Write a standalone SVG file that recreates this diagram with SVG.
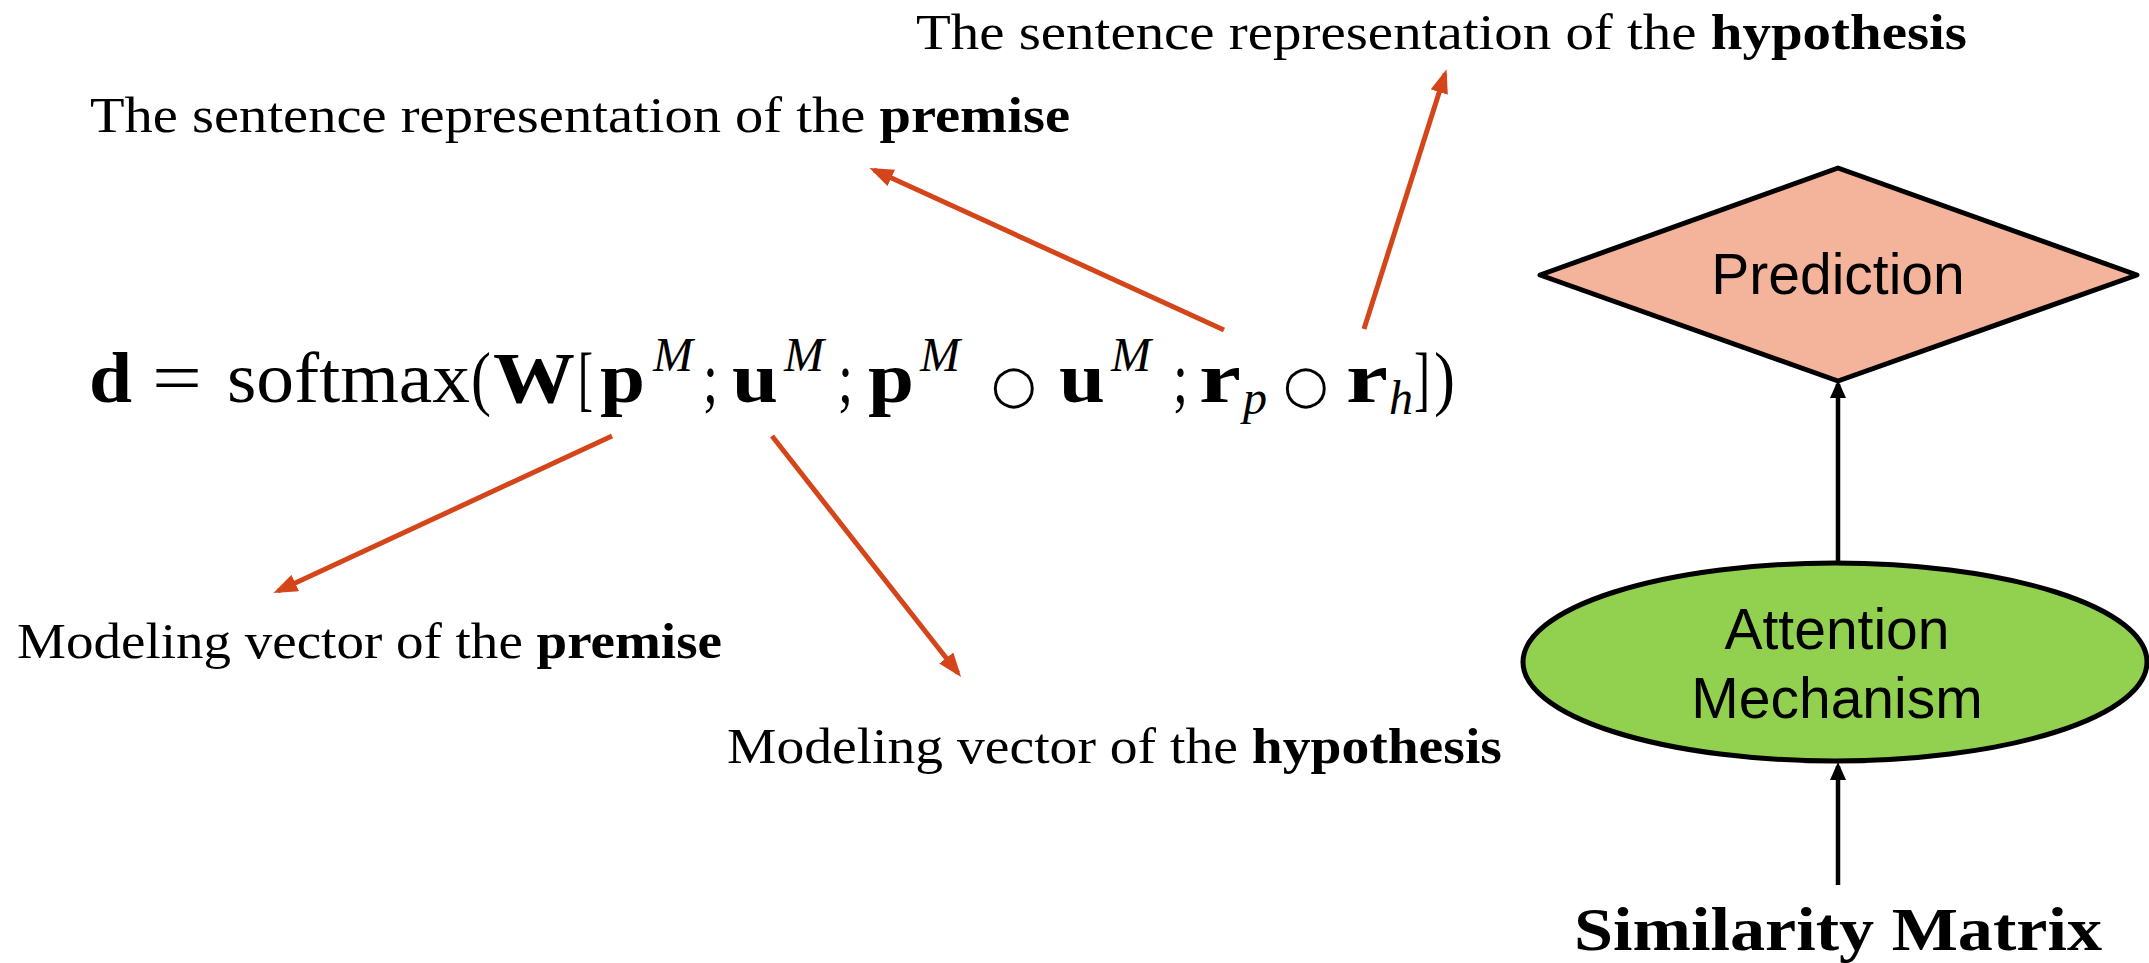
<svg xmlns="http://www.w3.org/2000/svg" width="2149" height="963" viewBox="0 0 2149 963">
<style>
.lbl{font-family:"Liberation Serif","Times New Roman",serif;font-size:50px;fill:#000}
.b{font-weight:bold}
.m{font-family:"Liberation Serif","Times New Roman",serif;font-size:72px;fill:#000}
.sup{font-family:"Liberation Serif","Times New Roman",serif;font-size:48px;font-style:italic;fill:#000}
.op{font-family:"DejaVu Sans",sans-serif;font-size:52px;fill:#000}
.node{font-family:"Liberation Sans",Arial,sans-serif;font-size:57px;fill:#000;text-anchor:middle}
.oa{stroke:#D4461A;stroke-width:5;fill:none}
.ba{stroke:#000;stroke-width:4.5;fill:none}
</style>
<defs>
<marker id="ho" markerUnits="userSpaceOnUse" markerWidth="24" markerHeight="18" refX="19" refY="9" orient="auto">
<path d="M0,0 L24,9 L0,18 z" fill="#D4461A"/>
</marker>
<marker id="hb" markerUnits="userSpaceOnUse" markerWidth="18" markerHeight="16" refX="14" refY="8" orient="auto">
<path d="M0,0 L18,8 L0,16 z" fill="#000"/>
</marker>
</defs>
<rect width="2149" height="963" fill="#fff"/>

<g id="label-hyp-sentence">
<text class="lbl" x="916" y="49" textLength="1051" lengthAdjust="spacingAndGlyphs">The sentence representation of the <tspan class="b">hypothesis</tspan></text>
</g>
<g id="label-prem-sentence">
<text class="lbl" x="90" y="132" textLength="980" lengthAdjust="spacingAndGlyphs">The sentence representation of the <tspan class="b">premise</tspan></text>
</g>
<g id="label-prem-model">
<text class="lbl" x="17" y="658" textLength="705" lengthAdjust="spacingAndGlyphs">Modeling vector of the <tspan class="b">premise</tspan></text>
</g>
<g id="label-hyp-model">
<text class="lbl" x="727" y="763" textLength="775" lengthAdjust="spacingAndGlyphs">Modeling vector of the <tspan class="b">hypothesis</tspan></text>
</g>

<g id="formula">
<text class="m b" x="89" y="402" textLength="43" lengthAdjust="spacingAndGlyphs">d</text>
<text class="m" x="152" y="402" textLength="50" lengthAdjust="spacingAndGlyphs">=</text>
<text class="m" x="227" y="402" textLength="243" lengthAdjust="spacingAndGlyphs">softmax</text>
<text class="m" x="471" y="402" textLength="20" lengthAdjust="spacingAndGlyphs">(</text>
<text class="m b" x="493" y="402" textLength="82" lengthAdjust="spacingAndGlyphs">W</text>
<text class="m" x="578" y="402" textLength="15" lengthAdjust="spacingAndGlyphs">[</text>
<text class="m b" x="600" y="402" textLength="45" lengthAdjust="spacingAndGlyphs">p</text>
<text class="sup" x="653" y="371">M</text>
<text class="m" x="703" y="402" textLength="15" lengthAdjust="spacingAndGlyphs">;</text>
<text class="m b" x="732" y="402" textLength="46" lengthAdjust="spacingAndGlyphs">u</text>
<text class="sup" x="784" y="371">M</text>
<text class="m" x="838" y="402" textLength="15" lengthAdjust="spacingAndGlyphs">;</text>
<text class="m b" x="868" y="402" textLength="46" lengthAdjust="spacingAndGlyphs">p</text>
<text class="sup" x="920" y="371">M</text>
<text class="op" x="991" y="402">○</text>
<text class="m b" x="1059" y="402" textLength="46" lengthAdjust="spacingAndGlyphs">u</text>
<text class="sup" x="1111" y="371">M</text>
<text class="m" x="1173" y="402" textLength="15" lengthAdjust="spacingAndGlyphs">;</text>
<text class="m b" x="1199" y="402" textLength="42" lengthAdjust="spacingAndGlyphs">r</text>
<text class="sup" x="1243" y="414">p</text>
<text class="op" x="1283" y="402">○</text>
<text class="m b" x="1346" y="402" textLength="42" lengthAdjust="spacingAndGlyphs">r</text>
<text class="sup" x="1389" y="414">h</text>
<text class="m" x="1414" y="402" textLength="16" lengthAdjust="spacingAndGlyphs">]</text>
<text class="m" x="1434" y="402" textLength="21" lengthAdjust="spacingAndGlyphs">)</text>
</g>

<g id="prediction">
<polygon points="1838,168 2137,275 1838,381 1540,275" fill="#F4B39B" stroke="#000" stroke-width="5" stroke-linejoin="round"/>
<text class="node" x="1838" y="294">Prediction</text>
</g>

<g id="attention">
<ellipse cx="1835" cy="662" rx="312" ry="99" fill="#92D050" stroke="#000" stroke-width="5"/>
<text class="node" x="1837" y="649">Attention</text>
<text class="node" x="1837" y="718">Mechanism</text>
</g>

<g id="similarity">
<text class="lbl b" x="1574" y="950" textLength="528" lengthAdjust="spacingAndGlyphs" style="font-size:62px">Similarity Matrix</text>
</g>

<g id="connectors">
<line class="oa" x1="1224" y1="330" x2="874" y2="170" marker-end="url(#ho)"/>
<line class="oa" x1="1364" y1="329" x2="1445" y2="74" marker-end="url(#ho)"/>
<line class="oa" x1="612" y1="436" x2="278" y2="591" marker-end="url(#ho)"/>
<line class="oa" x1="772" y1="436" x2="958" y2="673" marker-end="url(#ho)"/>
<line class="ba" x1="1838" y1="885" x2="1838" y2="766" marker-end="url(#hb)"/>
<line class="ba" x1="1838" y1="562" x2="1838" y2="384" marker-end="url(#hb)"/>
</g>
</svg>
